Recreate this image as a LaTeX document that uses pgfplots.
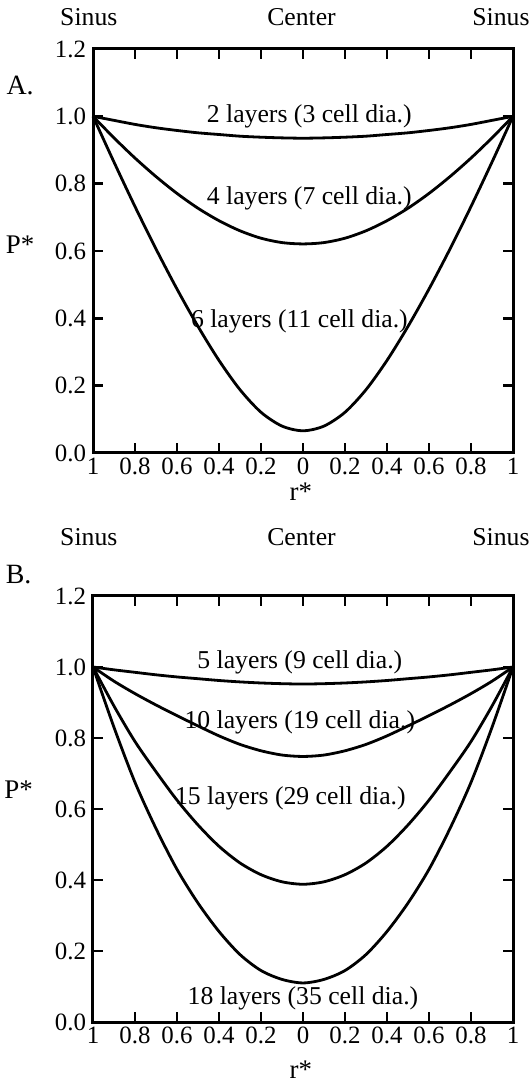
\documentclass[border=0pt]{standalone}
\usepackage{fontspec}
\setmainfont{Liberation Serif}
\usepackage{pgfplots}
\usepackage{pgfplotstable}
\pgfplotsset{compat=1.18}
\pgfplotstableread{
r     a2    a4    a6
-1.0 1.000 1.000 1.000
-0.9 0.988 0.936 0.864
-0.8 0.976 0.876 0.732
-0.7 0.966 0.821 0.606
-0.6 0.958 0.771 0.487
-0.5 0.951 0.727 0.376
-0.4 0.946 0.690 0.275
-0.3 0.941 0.660 0.188
-0.2 0.938 0.638 0.121
-0.1 0.936 0.625 0.080
 0.0 0.935 0.621 0.066
 0.1 0.936 0.625 0.080
 0.2 0.938 0.638 0.121
 0.3 0.941 0.660 0.188
 0.4 0.946 0.690 0.275
 0.5 0.951 0.727 0.376
 0.6 0.958 0.771 0.487
 0.7 0.966 0.821 0.606
 0.8 0.976 0.876 0.732
 0.9 0.988 0.936 0.864
 1.0 1.000 1.000 1.000
}\dataA
\pgfplotstableread{
r     b5    b10   b15   b18
-1.0 1.000 1.000 1.000 1.000
-0.9 0.992 0.960 0.890 0.830
-0.8 0.985 0.925 0.790 0.675
-0.7 0.978 0.893 0.705 0.545
-0.6 0.972 0.863 0.625 0.430
-0.5 0.967 0.834 0.555 0.335
-0.4 0.962 0.806 0.495 0.255
-0.3 0.958 0.782 0.448 0.190
-0.2 0.955 0.764 0.415 0.145
-0.1 0.953 0.752 0.395 0.120
 0.0 0.952 0.748 0.388 0.110
 0.1 0.953 0.752 0.395 0.120
 0.2 0.955 0.764 0.415 0.145
 0.3 0.958 0.782 0.448 0.190
 0.4 0.962 0.806 0.495 0.255
 0.5 0.967 0.834 0.555 0.335
 0.6 0.972 0.863 0.625 0.430
 0.7 0.978 0.893 0.705 0.545
 0.8 0.985 0.925 0.790 0.675
 0.9 0.992 0.960 0.890 0.830
 1.0 1.000 1.000 1.000 1.000
}\dataB
\pgfplotsset{
  myax/.style={
    scale only axis, width=210bp,
    xmin=-1, xmax=1, ymin=0, ymax=1.2,
    axis line style={line width=1.5bp},
    major tick style={line width=1.2bp, black},
    major tick length=5bp,
    tick align=inside,
    xtick={-1,-0.8,-0.6,-0.4,-0.2,0,0.2,0.4,0.6,0.8,1},
    xticklabels={1,0.8,0.6,0.4,0.2,0,0.2,0.4,0.6,0.8,1},
    ytick={0,0.2,0.4,0.6,0.8,1.0,1.2},
    yticklabel style={/pgf/number format/.cd, fixed, fixed zerofill, precision=1},
    /pgf/number format/assume math mode=true,
    tick label style={font=\fontsize{12.5}{14}\selectfont},
    xticklabel style={yshift=1bp},
    clip=false,
    cycle list={{black}},
    every axis plot post/.append style={black, line width=1.4bp, smooth, mark=none},
  },
}
\tikzset{lab/.style={font=\fontsize{12.9}{15}\selectfont, inner sep=0pt}}
\begin{document}
\begin{tikzpicture}
\useasboundingbox (-46.5bp,-33bp) rectangle (218.5bp,511bp);
\begin{axis}[myax, at={(0bp,284.5bp)}, anchor=south west, height=202bp]
\addplot table[x=r, y=a2] {\dataA};
\addplot table[x=r, y=a4] {\dataA};
\addplot table[x=r, y=a6] {\dataA};
\node[lab] at (axis cs:0.03,1.0) {2 layers (3 cell dia.)};
\node[lab] at (axis cs:0.03,0.757) {4 layers (7 cell dia.)};
\node[lab] at (axis cs:-0.017,0.39) {6 layers (11 cell dia.)};
\node[lab] at (axis cs:-1.02,1.295) {Sinus};
\node[lab] at (axis cs:-0.007,1.295) {Center};
\node[lab] at (axis cs:0.943,1.295) {Sinus};
\node[lab, font=\fontsize{14}{16}\selectfont] at (axis cs:-1.347,1.093) {A.};
\node[lab, font=\fontsize{13.5}{16}\selectfont] at (axis cs:-1.347,0.618) {P*};
\node[lab, font=\fontsize{13.5}{16}\selectfont] at (axis cs:-0.01,-0.115) {r*};
\end{axis}
\begin{axis}[myax, at={(0bp,0bp)}, anchor=south west, height=213bp]
\addplot table[x=r, y=b5] {\dataB};
\addplot table[x=r, y=b10] {\dataB};
\addplot table[x=r, y=b15] {\dataB};
\addplot table[x=r, y=b18] {\dataB};
\node[lab] at (axis cs:-0.015,1.014) {5 layers (9 cell dia.)};
\node[lab] at (axis cs:-0.015,0.845) {10 layers (19 cell dia.)};
\node[lab] at (axis cs:-0.06,0.631) {15 layers (29 cell dia.)};
\node[lab] at (axis cs:0,0.068) {18 layers (35 cell dia.)};
\node[lab] at (axis cs:-1.02,1.366) {Sinus};
\node[lab] at (axis cs:-0.007,1.366) {Center};
\node[lab] at (axis cs:0.943,1.366) {Sinus};
\node[lab, font=\fontsize{14}{16}\selectfont] at (axis cs:-1.354,1.259) {B.};
\node[lab, font=\fontsize{13.5}{16}\selectfont] at (axis cs:-1.354,0.654) {P*};
\node[lab, font=\fontsize{13.5}{16}\selectfont] at (axis cs:-0.01,-0.135) {r*};
\end{axis}
\end{tikzpicture}
\end{document}
